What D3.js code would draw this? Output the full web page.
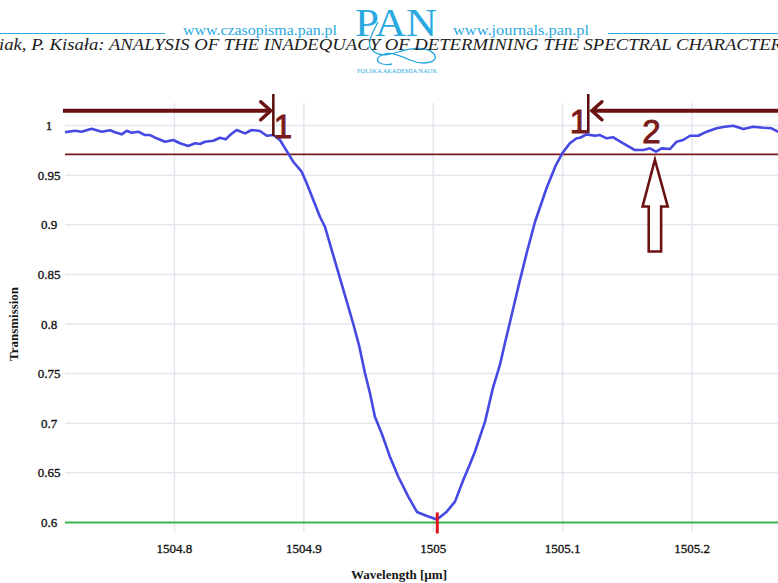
<!DOCTYPE html>
<html><head><meta charset="utf-8">
<script src="https://cdn.jsdelivr.net/npm/d3@7"></script>
<style>html,body{margin:0;padding:0;background:#fff;overflow:hidden}</style>
</head><body>
<svg id="c" width="778" height="583" xmlns="http://www.w3.org/2000/svg"></svg>
<script>
// ---- data ----
const wavelength = [
  1504.7154,1504.7231,1504.7283,1504.7360,1504.7437,1504.7502,1504.7540,1504.7592,1504.7631,1504.7669,
  1504.7720,1504.7772,1504.7811,1504.7862,1504.7927,1504.7991,1504.8043,1504.8107,1504.8158,1504.8197,
  1504.8236,1504.8300,1504.8352,1504.8396,1504.8429,1504.8481,1504.8545,1504.8597,1504.8661,1504.8713,
  1504.8764,1504.8815,1504.8879,1504.8918,1504.8983,1504.9022,1504.9073,1504.9124,1504.9163,1504.9215,
  1504.9279,1504.9343,1504.9382,1504.9426,1504.9472,1504.9511,1504.9549,1504.9601,1504.9665,1504.9730,
  1504.9807,1504.9874,1504.9951,1505.0029,1505.0104,1505.0168,1505.0232,1505.0284,1505.0322,1505.0400,
  1505.0461,1505.0515,1505.0554,1505.0593,1505.0670,1505.0724,1505.0786,1505.0876,1505.0948,1505.0997,
  1505.1056,1505.1108,1505.1134,1505.1185,1505.1250,1505.1288,1505.1340,1505.1391,1505.1468,1505.1559,
  1505.1623,1505.1675,1505.1721,1505.1765,1505.1829,1505.1881,1505.1932,1505.1984,1505.2048,1505.2113,
  1505.2190,1505.2254,1505.2318,1505.2396,1505.2473,1505.2550,1505.2615,1505.2664,1505.2718
];
const transmission = [
  0.9932,0.9948,0.9938,0.9968,0.9938,0.9952,0.9932,0.9911,0.9948,0.9927,
  0.9938,0.9904,0.9904,0.9871,0.9837,0.9854,0.9821,0.9793,0.9821,0.9814,
  0.9837,0.9847,0.9877,0.9861,0.9904,0.9955,0.9921,0.9955,0.9945,0.9897,
  0.9904,0.9854,0.9720,0.9635,0.9535,0.9418,0.9249,0.9081,0.8980,0.8746,
  0.8463,0.8174,0.8000,0.7788,0.7506,0.7302,0.7066,0.6899,0.6663,0.6461,
  0.6260,0.6106,0.6065,0.6030,0.6109,0.6210,0.6428,0.6589,0.6713,0.7016,
  0.7355,0.7587,0.7809,0.8020,0.8443,0.8725,0.9028,0.9370,0.9602,0.9720,
  0.9821,0.9871,0.9877,0.9911,0.9897,0.9904,0.9871,0.9881,0.9821,0.9753,
  0.9753,0.9770,0.9736,0.9770,0.9763,0.9837,0.9854,0.9897,0.9897,0.9938,
  0.9972,0.9988,0.9998,0.9965,0.9988,0.9978,0.9972,0.9938,0.9935
];
const xTicks = [1504.8, 1504.9, 1505.0, 1505.1, 1505.2];
const xTickLabels = ["1504.8", "1504.9", "1505", "1505.1", "1505.2"];
const yTicks = [0.6, 0.65, 0.7, 0.75, 0.8, 0.85, 0.9, 0.95, 1.0];
const yTickLabels = ["0.6", "0.65", "0.7", "0.75", "0.8", "0.85", "0.9", "0.95", "1"];
const xDomain = [1504.7154, 1505.2757];
const yDomain = [0.5904, 1.0227];
const thresholdLevel = 0.971;
const baselineLevel = 0.6;
const minimumWavelength = 1505.0031;
const boundaryWavelengths = [1504.8764, 1505.1198];
const boundaryLabelWavelengths = [1504.8839, 1505.1126];
const boundaryLabelLevels = [0.9874, 0.9927];
const boundaryLabels = ["1", "1"];
const rangeArrowLevel = 1.0149;
const rangeArrowLeft = [1504.7138, 1504.8744];
const rangeArrowRight = [1505.1226, 1505.2757];
const dipWavelength = 1505.1713;
const dipTipLevel = 0.9655;
const dipLabel = "2";
const dipLabelWavelength = 1505.1686;
const dipLabelLevel = 0.9824;
const xTitle = "Wavelength [\u00b5m]";
const yTitle = "Transmission";

// ---- drawing ----
const svg = d3.select("#c");
const x = d3.scaleLinear().domain(xDomain).range([65, 790]);
const y = d3.scaleLinear().domain(yDomain).range([532, 103]);
const maroon = "#6a1212";

// header
const hdr = svg.append("g");
const blue = "#2aa9e1";
hdr.append("line").attr("x1", 0).attr("x2", 165).attr("y1", 33.5).attr("y2", 33.5).attr("stroke", blue).attr("stroke-width", 1);
hdr.append("line").attr("x1", 608).attr("x2", 778).attr("y1", 33.5).attr("y2", 33.5).attr("stroke", blue).attr("stroke-width", 1);
hdr.append("text").attr("x", 183).attr("y", 35).attr("textLength", 154).attr("lengthAdjust", "spacingAndGlyphs")
  .attr("font-family", "Liberation Serif").attr("font-size", 14.5).attr("fill", blue).text("www.czasopisma.pan.pl");
hdr.append("text").attr("x", 453).attr("y", 35).attr("textLength", 136).attr("lengthAdjust", "spacingAndGlyphs")
  .attr("font-family", "Liberation Serif").attr("font-size", 14.5).attr("fill", blue).text("www.journals.pan.pl");
hdr.append("text").attr("x", 355).attr("y", 36).attr("textLength", 82).attr("lengthAdjust", "spacingAndGlyphs")
  .attr("font-family", "Liberation Serif").attr("font-size", 40).attr("fill", blue).text("PAN");
hdr.append("path").attr("fill", "none").attr("stroke", blue).attr("stroke-width", 1.3)
  .attr("d", "M378,22 C372,34 366,44 372,50 C380,58 392,54 398,52 C410,48 428,46 434,54 C440,62 424,66 410,60 C398,55 388,50 380,56 C372,62 384,66 392,64");
hdr.append("text").attr("x", 357).attr("y", 73).attr("textLength", 80).attr("lengthAdjust", "spacingAndGlyphs")
  .attr("font-family", "Liberation Serif").attr("font-size", 5.5).attr("fill", blue).text("POLSKA AKADEMIA NAUK");
hdr.append("text").attr("x", -1).attr("y", 49.5).attr("textLength", 783).attr("lengthAdjust", "spacingAndGlyphs")
  .attr("font-family", "Liberation Serif").attr("font-style", "italic").attr("font-size", 16.5).attr("fill", "#1e1e1e")
  .text("iak, P. Kisała: ANALYSIS OF THE INADEQUACY OF DETERMINING THE SPECTRAL CHARACTER");

// grid
const grid = svg.append("g").attr("stroke", "#e5e5f0").attr("stroke-width", 1.5);
grid.selectAll(".v").data(xTicks).join("line")
  .attr("x1", d => x(d)).attr("x2", d => x(d)).attr("y1", y.range()[1]).attr("y2", y.range()[0]);
grid.selectAll(".h").data(yTicks.filter(t => t > baselineLevel)).join("line")
  .attr("x1", x.range()[0]).attr("x2", x.range()[1]).attr("y1", d => y(d)).attr("y2", d => y(d));

// axes labels
const tickFont = "Liberation Serif";
const tickInk = "#151515";
svg.append("g").selectAll("text").data(xTicks).join("text")
  .attr("x", d => x(d)).attr("y", 553).attr("text-anchor", "middle")
  .attr("font-family", tickFont).attr("font-size", 13).attr("fill", tickInk)
  .attr("stroke", tickInk).attr("stroke-width", 0.35)
  .text((d, i) => xTickLabels[i]);
svg.append("g").selectAll("text").data(yTicks).join("text")
  .attr("x", 49).attr("y", d => y(d) + 4.5).attr("text-anchor", "middle")
  .attr("font-family", tickFont).attr("font-size", 13).attr("fill", tickInk)
  .attr("stroke", tickInk).attr("stroke-width", 0.35)
  .text((d, i) => yTickLabels[i]);
svg.append("text").attr("x", 399).attr("y", 579).attr("text-anchor", "middle")
  .attr("font-family", tickFont).attr("font-weight", "bold").attr("font-size", 13).attr("fill", "#151515").text(xTitle);
svg.append("text").attr("transform", "translate(18,324) rotate(-90)").attr("text-anchor", "middle")
  .attr("font-family", tickFont).attr("font-weight", "bold").attr("font-size", 13).attr("fill", "#151515").text(yTitle);

// baseline (green) and threshold (maroon)
svg.append("line").attr("x1", x.range()[0]).attr("x2", x.range()[1])
  .attr("y1", y(baselineLevel)).attr("y2", y(baselineLevel)).attr("stroke", "#3db54a").attr("stroke-width", 2);
svg.append("line").attr("x1", x.range()[0]).attr("x2", x.range()[1])
  .attr("y1", y(thresholdLevel)).attr("y2", y(thresholdLevel)).attr("stroke", "#7a1a1a").attr("stroke-width", 1.8);

// spectrum
const pts = wavelength.map((w, i) => [w, transmission[i]]);
svg.append("path").datum(pts).attr("fill", "none").attr("stroke", "#4548e2").attr("stroke-width", 2.6)
  .attr("stroke-linejoin", "round").attr("d", d3.line().x(d => x(d[0])).y(d => y(d[1])));

// minimum marker
svg.append("line").attr("x1", x(minimumWavelength)).attr("x2", x(minimumWavelength))
  .attr("y1", y(baselineLevel) - 10).attr("y2", y(baselineLevel) + 11).attr("stroke", "#e0141a").attr("stroke-width", 3);

// range arrows and boundary markers
const ann = svg.append("g");
const ay = y(rangeArrowLevel);
ann.append("line").attr("x1", x(rangeArrowLeft[0])).attr("x2", x(rangeArrowLeft[1]) - 2).attr("y1", ay).attr("y2", ay)
  .attr("stroke", maroon).attr("stroke-width", 4);
ann.append("path").attr("fill", "none").attr("stroke", maroon).attr("stroke-width", 3.5).attr("stroke-linecap", "round")
  .attr("d", `M${x(rangeArrowLeft[1]) - 10},${ay - 9} L${x(rangeArrowLeft[1])},${ay} L${x(rangeArrowLeft[1]) - 10},${ay + 9}`);
ann.append("line").attr("x1", x(rangeArrowRight[0]) + 2).attr("x2", x(rangeArrowRight[1])).attr("y1", ay).attr("y2", ay)
  .attr("stroke", maroon).attr("stroke-width", 4);
ann.append("path").attr("fill", "none").attr("stroke", maroon).attr("stroke-width", 3.5).attr("stroke-linecap", "round")
  .attr("d", `M${x(rangeArrowRight[0]) + 10},${ay - 9} L${x(rangeArrowRight[0])},${ay} L${x(rangeArrowRight[0]) + 10},${ay + 9}`);
ann.selectAll(".b").data(boundaryWavelengths).join("line")
  .attr("x1", d => x(d)).attr("x2", d => x(d)).attr("y1", 94).attr("y2", (d, i) => i === 0 ? 136 : 133)
  .attr("stroke", "#5a0c0c").attr("stroke-width", 2.5);
ann.selectAll(".bl").data(boundaryLabels).join("text")
  .attr("x", (d, i) => x(boundaryLabelWavelengths[i])).attr("y", (d, i) => y(boundaryLabelLevels[i]))
  .attr("text-anchor", "middle").attr("font-family", "Liberation Sans").attr("font-size", 33).attr("fill", "#7a1c1c")
  .attr("stroke", "#7a1c1c").attr("stroke-width", 1)
  .text(d => d);
ann.append("text").attr("x", x(dipLabelWavelength)).attr("y", y(dipLabelLevel)).attr("text-anchor", "middle")
  .attr("font-family", "Liberation Sans").attr("font-size", 33).attr("fill", "#7a1c1c")
  .attr("stroke", "#7a1c1c").attr("stroke-width", 1).text(dipLabel);
const tx = x(dipWavelength), ty = y(dipTipLevel);
ann.append("path").attr("fill", "#fff").attr("stroke", maroon).attr("stroke-width", 2.6).attr("stroke-linejoin", "miter")
  .attr("d", `M${tx},${ty} L${tx + 12.8},${ty + 46.7} L${tx + 6.2},${ty + 46.7} L${tx + 6.2},${ty + 91.7} L${tx - 6.2},${ty + 91.7} L${tx - 6.2},${ty + 46.7} L${tx - 12.3},${ty + 46.7} Z`);
</script>
</body></html>
